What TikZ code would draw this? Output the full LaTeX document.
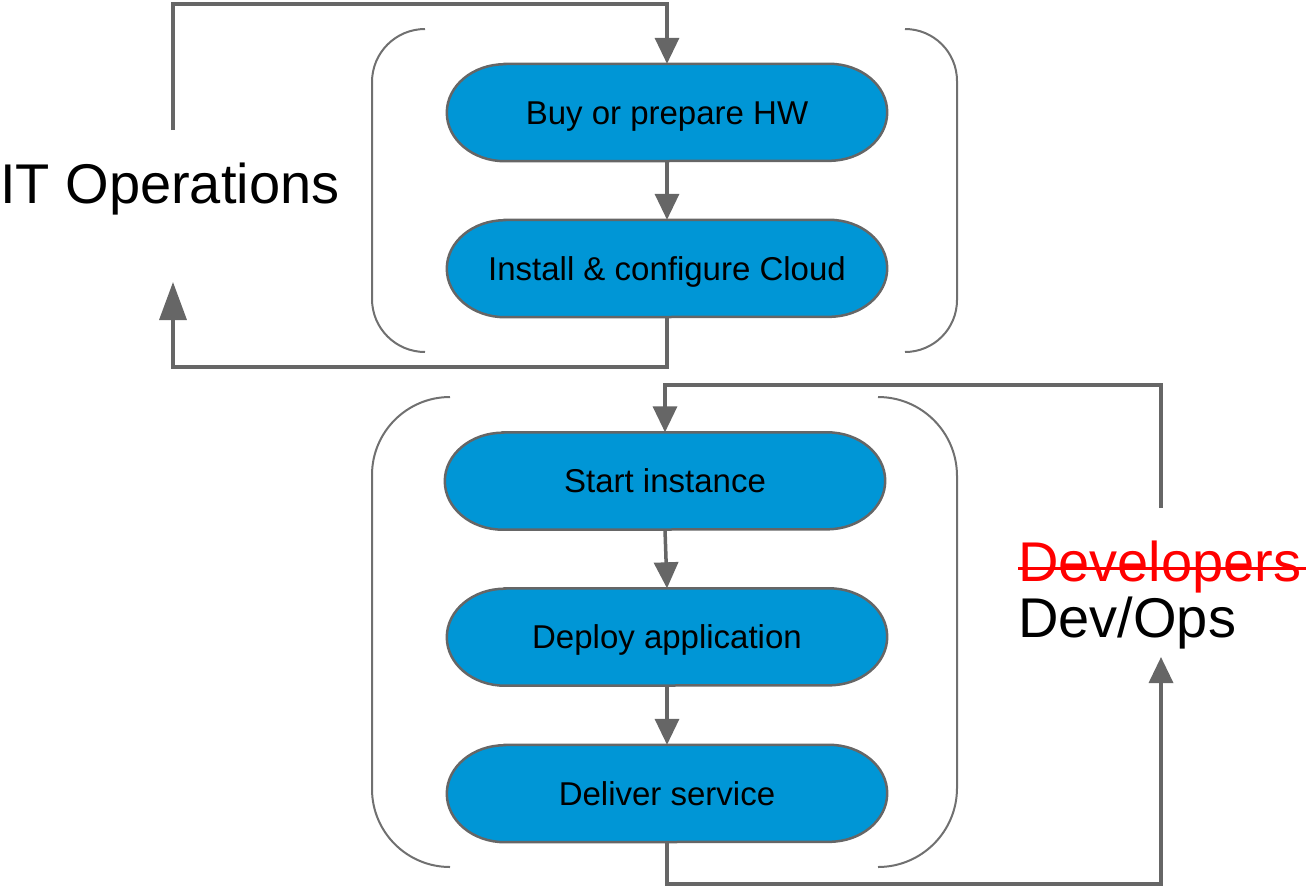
\documentclass[tikz,border=0pt]{standalone}
\usepackage{fontspec}
\setmainfont{Liberation Sans}
\usetikzlibrary{arrows.meta,backgrounds}
\definecolor{boxblue}{RGB}{0,150,214}
\definecolor{linegray}{RGB}{102,102,102}
\definecolor{brgray}{RGB}{112,112,112}
\newcommand\capsuleshape[1]{%
  \path[capsule] ([xshift=58pt]#1.north west) -- ([xshift=-58pt]#1.north east)
    arc[start angle=90,end angle=-90,x radius=58pt,y radius=48.5pt]
    -- ([xshift=58pt]#1.south west)
    arc[start angle=270,end angle=90,x radius=58pt,y radius=48.5pt] -- cycle;}
\begin{document}
\begin{tikzpicture}[x=1pt,y=-1pt,
  stepbox/.style={minimum width=440pt,minimum height=97pt,inner sep=0pt,
    font=\fontsize{33}{40}\selectfont,text height=23.5pt,text depth=0pt},
  capsule/.style={draw=linegray,line width=2.5pt,fill=boxblue},
  conn/.style={draw=linegray,line width=3.5pt},
  tip/.style={-{Triangle[length=26pt,width=24pt]}},
  bigtip/.style={-{Triangle[length=38pt,width=27pt]}},
  bracket/.style={draw=brgray,line width=2pt},
  lbl/.style={font=\fontsize{56}{56}\selectfont,inner sep=0pt,anchor=base west}]
\useasboundingbox (0,0) rectangle (1306,889);

% brackets
\draw[bracket,rounded corners=53pt] (425,29) -- (372,29) -- (372,352) -- (425,352);
\draw[bracket,rounded corners=52pt] (905,29) -- (957,29) -- (957,352) -- (905,352);
\draw[bracket,rounded corners=78pt] (450,397) -- (372,397) -- (372,867) -- (450,867);
\draw[bracket,rounded corners=79pt] (878,397) -- (957,397) -- (957,867) -- (878,867);

% steps
\node[stepbox] (b1) at (667,112.5) {Buy or prepare HW};
\node[stepbox] (b2) at (667,268.5) {Install \& configure Cloud};
\node[stepbox] (b3) at (665,481) {Start instance};
\node[stepbox] (b4) at (667,637) {Deploy application};
\node[stepbox] (b5) at (667,793.5) {Deliver service};
\begin{scope}[on background layer]
  \capsuleshape{b1}\capsuleshape{b2}\capsuleshape{b3}\capsuleshape{b4}\capsuleshape{b5}
\end{scope}

% labels
\node[lbl] (itops) at (0,203) {IT Operations};
\node[lbl,text=red] (dev) at (1018,581) {Developers};
\node[lbl] (devops) at (1018,637) {Dev/Ops};
\draw[red,line width=3pt] ([yshift=13pt]dev.base west) -- ([xshift=7pt,yshift=13pt]dev.base east);

% loose ends
\coordinate (itA) at (173,130);
\coordinate (itB) at (173,282);
\coordinate (dvA) at (1161,508);
\coordinate (dvB) at (1161,657);

% connectors
\draw[conn,tip] (itA) -- ++(0,-126) -| (b1.north);
\draw[conn,tip] (b1.south) -- (b2.north);
\draw[conn,bigtip] (b2.south) -- ++(0,50) -| (itB);
\draw[conn,tip] (dvA) -- ++(0,-123) -| (b3.north);
\draw[conn,tip] (b3.south) -- (b4.north);
\draw[conn,tip] (b4.south) -- (b5.north);
\draw[conn,tip] (b5.south) -- ++(0,42) -| (dvB);
\end{tikzpicture}
\end{document}
